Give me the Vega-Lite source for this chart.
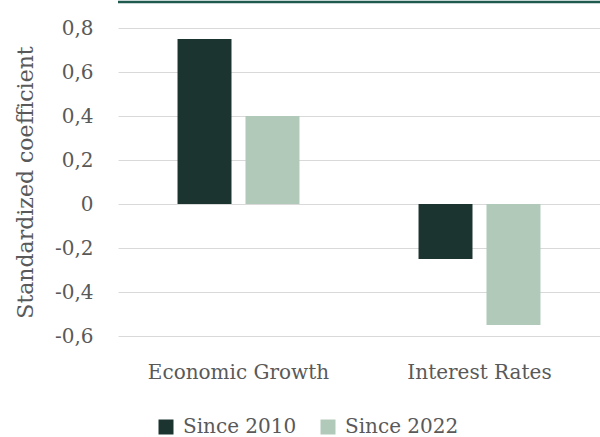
{
  "$schema": "https://vega.github.io/schema/vega-lite/v6.json",
  "width": 482,
  "height": 308,
  "autosize": {"type": "none"},
  "padding": {"left": 118, "top": 28, "right": 0, "bottom": 101},
  "background": "white",
  "config": {
    "locale": {"number": {"decimal": ",", "thousands": ".", "grouping": [3], "currency": ["", "€"], "minus": "-"}},
    "view": {"stroke": null},
    "font": "DejaVu Serif"
  },
  "data": {
    "values": [
      {"factor": "Economic Growth", "period": "Since 2010", "value": 0.75},
      {"factor": "Economic Growth", "period": "Since 2022", "value": 0.40},
      {"factor": "Interest Rates", "period": "Since 2010", "value": -0.25},
      {"factor": "Interest Rates", "period": "Since 2022", "value": -0.55}
    ]
  },
  "layer": [
    {
      "mark": {"type": "bar"},
      "encoding": {
        "x": {
          "field": "factor", "type": "nominal", "sort": null,
          "scale": {"paddingInner": 0.494, "paddingOuter": 0.247},
          "axis": {"title": null, "labelAngle": 0, "labelFontSize": 20, "labelColor": "#595959", "labelPadding": 26, "labelLimit": 400, "ticks": false, "domain": false, "grid": false}
        },
        "xOffset": {"field": "period", "type": "nominal", "sort": null, "scale": {"paddingInner": 0.206, "paddingOuter": 0}},
        "y": {
          "field": "value", "type": "quantitative",
          "scale": {"domain": [-0.6, 0.8], "nice": false, "zero": false},
          "axis": {
            "title": "Standardized coefficient", "titleFontSize": 22, "titleFontWeight": "normal", "titleColor": "#595959", "titlePadding": 17,
            "labelFontSize": 20, "labelColor": "#595959", "labelPadding": 25,
            "values": [-0.6, -0.4, -0.2, 0, 0.2, 0.4, 0.6, 0.8], "format": ".1~f",
            "grid": true, "gridColor": "#d9d9d9", "gridWidth": 1, "domain": false, "ticks": false
          }
        },
        "color": {
          "field": "period", "type": "nominal",
          "scale": {"domain": ["Since 2010", "Since 2022"], "range": ["#1c3430", "#b0c9b8"]},
          "legend": {"title": null, "orient": "none", "legendX": 38, "legendY": 389, "direction": "horizontal", "symbolType": "square", "symbolSize": 225, "symbolStrokeWidth": 0, "labelFontSize": 20, "labelColor": "#595959", "labelOffset": 7, "columnPadding": 21, "labelLimit": 300}
        }
      }
    },
    {
      "data": {"values": [{"top": 0.918}]},
      "mark": {"type": "rule", "color": "#1f5a4f", "strokeWidth": 2.5},
      "encoding": {"y": {"field": "top", "type": "quantitative"}}
    }
  ]
}
